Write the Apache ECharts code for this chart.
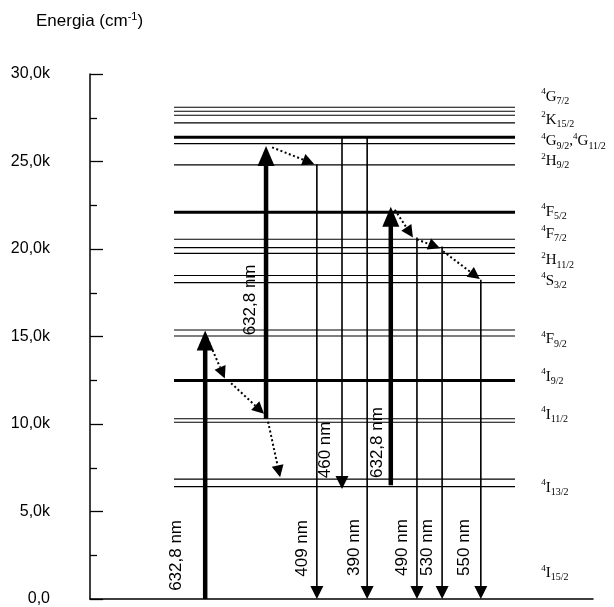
<!DOCTYPE html>
<html><head><meta charset="utf-8">
<script src="https://cdn.jsdelivr.net/npm/echarts@6/dist/echarts.min.js"></script>
<style>html,body{margin:0;padding:0;background:#fff}#c{width:614px;height:607px}</style>
</head><body><div id="c"></div>
<script>
// ---------------- DATA ----------------
const yTicks = [0, 5000, 10000, 15000, 20000, 25000, 30000];
const yTickLabels = ['0,0', '5,0k', '10,0k', '15,0k', '20,0k', '25,0k', '30,0k'];

// Term symbols [superscript, letter, subscript]
const terms = [
  [['4','G','7/2']],
  [['2','K','15/2']],
  [['4','G','9/2'], ['4','G','11/2']],
  [['2','H','9/2']],
  [['4','F','5/2']],
  [['4','F','7/2']],
  [['2','H','11/2']],
  [['4','S','3/2']],
  [['4','F','9/2']],
  [['4','I','9/2']],
  [['4','I','11/2']],
  [['4','I','13/2']],
  [['4','I','15/2']]
];
// Energies (cm^-1) of the drawn sub-levels of each term
const levelEnergies = [
  [28100, 27870],
  [27640, 27210],
  [26390, 26020],
  [24810],
  [22100],
  [20560],
  [20080, 19750],
  [18490, 18080],
  [15370, 15030],
  [12490],
  [10300, 10100],
  [6850, 6420],
  [0]
];

// Pump (absorption) arrows, 632,8 nm
const pumpFrom = [0, 10300, 6500];
const pumpTo = [15340, 25880, 22410];
const pumpLabels = ['632,8 nm', '632,8 nm', '632,8 nm'];

// Emission arrows
const emitFrom = [24850, 26380, 26380, 20660, 20150, 18240];
const emitTo = [0, 6280, 0, 0, 0, 0];
const emitLabels = ['409 nm', '460 nm', '390 nm', '490 nm', '530 nm', '550 nm'];

// Non-radiative relaxation (dotted) arrows
const relaxFrom = [14940, 12510, 10130, 25810, 22240, 20550, 19870];
const relaxTo = [12600, 10580, 6960, 24850, 20660, 20040, 18280];

// ---------------- LAYOUT (positions / styles) ----------------
const levelX = [16.7, 84.5];
const thickLevels = [26390, 22100, 12490];
const termLabelX = 89.7;
const termLabelE = [28700, 27390, 26150, 25020, 22130, 20880, 19350, 18170, 14830, 12680, 10530, 6340, 1470];
const pumpX = [22.9, 35.0, 59.8];
const pumpLabelPos = [[17.1, 2490], [31.8, 17090], [57.1, 8940]];
const emitX = [45.1, 50.1, 55.1, 65.0, 70.0, 77.7];
const emitLabelPos = [[42.3, 2890], [46.7, 8520], [52.5, 2940], [62.0, 2940], [67.0, 2940], [74.4, 2940]];
const relaxX = [[23.3, 26.8], [27.4, 34.6], [35.4, 37.8], [36.2, 44.6], [60.6, 64.2], [65.0, 69.6], [70.2, 77.5]];

const SANS = '"Liberation Sans", Arial, sans-serif';
const SERIF = '"Liberation Serif", "Times New Roman", serif';

function arrow(p0, p1, headW, headL, lw, dash) {
  const dx = p1[0] - p0[0], dy = p1[1] - p0[1];
  const len = Math.hypot(dx, dy) || 1;
  const ux = dx / len, uy = dy / len;
  const bx = p1[0] - ux * headL, by = p1[1] - uy * headL;
  const nx = -uy, ny = ux;
  const ext = dash ? 0 : 2;
  return {
    type: 'group', children: [
      { type: 'line', shape: { x1: p0[0], y1: p0[1], x2: bx + ux * ext, y2: by + uy * ext },
        style: { stroke: '#000', lineWidth: lw, lineDash: dash || null, lineCap: 'butt' } },
      { type: 'polygon', shape: { points: [[p1[0], p1[1]], [bx + nx * headW / 2, by + ny * headW / 2], [bx - nx * headW / 2, by - ny * headW / 2]] },
        style: { fill: '#000' } }
    ]
  };
}
function vText(api, pos, text) {
  const p = api.coord(pos);
  return { type: 'text', x: p[0], y: p[1], rotation: Math.PI / 2,
    style: { text: text, fill: '#000', fontSize: 17, fontFamily: SANS, align: 'center', verticalAlign: 'middle' } };
}
function termRich(parts) {
  return parts.map(p => '{sup|' + p[0] + '}{m|' + p[1] + '}{sub|' + p[2] + '}').join('{m|,}');
}

// flatten levels
const levelItems = [];
levelEnergies.forEach((arr, ti) => arr.forEach(e => { if (e > 0) levelItems.push([ti, e]); }));

const chart = echarts.init(document.getElementById('c'), null, { renderer: 'canvas' });
chart.setOption({
  animation: false,
  backgroundColor: '#fff',
  title: {
    text: '{a|Energia (cm}{s|-1}{a|)}',
    left: 31, top: 6,
    textStyle: {
      fontWeight: 'normal',
      rich: {
        a: { fontSize: 17, fontFamily: SANS, color: '#000', fontWeight: 'normal' },
        s: { fontSize: 11, fontFamily: SANS, color: '#000', fontWeight: 'normal', padding: [0, 0, 10, 0] }
      }
    }
  },
  grid: { left: 90, right: 21, top: 74, bottom: 3, containLabel: false },
  xAxis: {
    type: 'value', min: 0, max: 100,
    axisLine: { show: true, onZero: false, lineStyle: { color: '#000', width: 1.5 } },
    axisTick: { show: false }, axisLabel: { show: false }, splitLine: { show: false }
  },
  yAxis: {
    type: 'value', min: 0, max: 30000, interval: 5000,
    axisLine: { show: true, lineStyle: { color: '#000', width: 1.5 } },
    axisTick: { show: true, inside: true, length: 13, lineStyle: { color: '#000', width: 1.3 } },
    minorTick: { show: true, splitNumber: 2, length: 7, lineStyle: { color: '#000', width: 1.3 } },
    splitLine: { show: false }, minorSplitLine: { show: false },
    axisLabel: {
      margin: 40, fontSize: 16, fontFamily: SANS, color: '#000',
      formatter: v => { const i = yTicks.indexOf(v); return i >= 0 ? yTickLabels[i] : ''; }
    }
  },
  series: [
    { // energy levels
      type: 'custom', clip: false, z: 2,
      data: levelItems,
      renderItem: (params, api) => {
        const e = api.value(1);
        const a = api.coord([levelX[0], e]);
        const b = api.coord([levelX[1], e]);
        const lw = thickLevels.indexOf(e) >= 0 ? 3 : 1.1;
        return { type: 'line', shape: { x1: a[0], y1: a[1], x2: b[0], y2: b[1] }, style: { stroke: '#000', lineWidth: lw } };
      }
    },
    { // term labels
      type: 'custom', clip: false, z: 3,
      data: terms.map((t, i) => [i]),
      renderItem: (params, api) => {
        const i = params.dataIndex;
        const p = api.coord([termLabelX, termLabelE[i]]);
        return { type: 'text', x: p[0], y: p[1], style: {
          text: termRich(terms[i]), align: 'left', verticalAlign: 'middle',
          rich: {
            sup: { fontSize: 9, fontFamily: SERIF, fill: '#000', padding: [0, 0, 10, 0] },
            m: { fontSize: 15, fontFamily: SERIF, fill: '#000' },
            sub: { fontSize: 10, fontFamily: SERIF, fill: '#000', padding: [9, 0, 0, 0] }
          } } };
      }
    },
    { // pump arrows
      type: 'custom', clip: false, z: 5,
      data: pumpFrom.map((f, i) => [f, pumpTo[i]]),
      renderItem: (params, api) => {
        const i = params.dataIndex;
        const p0 = api.coord([pumpX[i], api.value(0)]);
        const p1 = api.coord([pumpX[i], api.value(1)]);
        return { type: 'group', children: [arrow(p0, p1, 17, 20, 4.5), vText(api, pumpLabelPos[i], pumpLabels[i])] };
      }
    },
    { // emission arrows
      type: 'custom', clip: false, z: 4,
      data: emitFrom.map((f, i) => [f, emitTo[i]]),
      renderItem: (params, api) => {
        const i = params.dataIndex;
        const p0 = api.coord([emitX[i], api.value(0)]);
        const p1 = api.coord([emitX[i], api.value(1)]);
        return { type: 'group', children: [arrow(p0, p1, 13, 13, 1.6), vText(api, emitLabelPos[i], emitLabels[i])] };
      }
    },
    { // relaxation arrows (dotted)
      type: 'custom', clip: false, z: 4,
      data: relaxFrom.map((f, i) => [f, relaxTo[i]]),
      renderItem: (params, api) => {
        const i = params.dataIndex;
        const p0 = api.coord([relaxX[i][0], api.value(0)]);
        const p1 = api.coord([relaxX[i][1], api.value(1)]);
        return arrow(p0, p1, 12, 12, 2, [2, 2.5]);
      }
    }
  ]
});
</script>
</body></html>
